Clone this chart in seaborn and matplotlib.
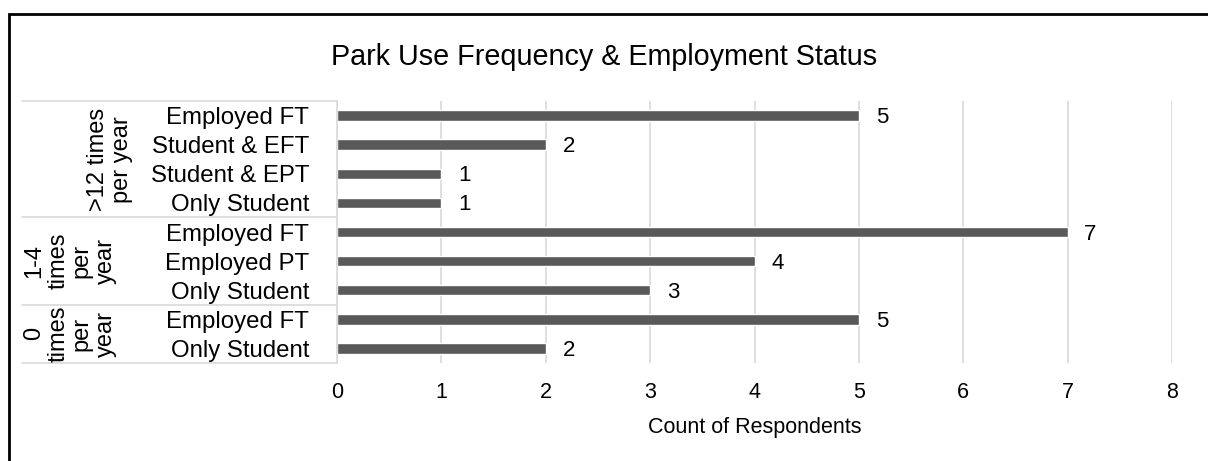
import numpy as np
import pandas as pd
import matplotlib
matplotlib.use("Agg")
import matplotlib.pyplot as plt
import seaborn as sns
from matplotlib.patches import Rectangle

# data, top to bottom
groups = [">12 times\nper year", "1-4\ntimes\nper\nyear", "0\ntimes\nper\nyear"]
group_sizes = [4, 3, 2]
categories = ["Employed FT", "Student & EFT", "Student & EPT", "Only Student",
              "Employed FT", "Employed PT", "Only Student",
              "Employed FT", "Only Student"]
counts = [5, 2, 1, 1, 7, 4, 3, 5, 2]

sns.set_theme(style="white")
plt.rcParams['font.family'] = ['Liberation Sans', 'DejaVu Sans']
plt.rcParams['text.color'] = 'black'
plt.rcParams['axes.labelcolor'] = 'black'
plt.rcParams['xtick.color'] = 'black'
plt.rcParams['ytick.color'] = 'black'

df = pd.DataFrame({
    'key': [f"r{i}" for i in range(len(categories))],
    'category': categories,
    'count': counts,
})

W, H = 1208, 461
fig = plt.figure(figsize=(W / 100, H / 100), dpi=100)
ax = fig.add_axes([337 / W, 1 - 363 / H, (1172 - 337) / W, (363 - 101) / H])

sns.barplot(data=df, x='count', y='key', order=df['key'], orient='h',
            color='#595959', saturation=1, width=0.36, ax=ax)

ax.set_xlim(0, 8)
ax.set_ylim(len(categories) - 0.5, -0.5)
ax.set_xticks(range(0, 9))
ax.set_yticks(range(len(categories)))
ax.set_yticklabels(categories, fontsize=17.3)
ax.tick_params(axis='y', length=0, pad=20)
ax.tick_params(axis='x', length=0, pad=14, labelsize=15.5)
ax.set_xlabel('Count of Respondents', fontsize=15.5, labelpad=10)
ax.set_ylabel('')
ax.grid(axis='x', color='#d9d9d9', linewidth=1.2)
ax.set_axisbelow(True)
for s in ['top', 'right', 'bottom']:
    ax.spines[s].set_visible(False)
ax.spines['left'].set_color('#d9d9d9')
ax.spines['left'].set_linewidth(1.2)

# value labels
for i, v in enumerate(counts):
    ax.text(v + 0.16, i + 0.07, str(v), va='center', ha='left', fontsize=16)

# category table lines and group labels
tr = ax.get_yaxis_transform()
left = (22 - 337) / (1172 - 337)
bounds = [-0.5]
for n in group_sizes:
    bounds.append(bounds[-1] + n)
for b in bounds:
    ax.plot([left, 0], [b, b], color='#d9d9d9', linewidth=1.2,
            transform=tr, clip_on=False)
group_x = [(110 - 337) / 835, (70 - 337) / 835, (70 - 337) / 835]
for g, gx, lo, hi in zip(groups, group_x, bounds[:-1], bounds[1:]):
    ax.text(gx, (lo + hi) / 2, g, rotation=90, ha='center', va='center',
            fontsize=17, linespacing=1.1, transform=tr, multialignment='center')

fig.text(0.5, 1 - 57 / H, 'Park Use Frequency & Employment Status',
         ha='center', va='center', fontsize=20.7)

# outer frame (left/top edges are visible, right/bottom fall outside)
fig.patches.append(Rectangle((9 / W, -0.1), 1.2, 1 - 14 / H + 0.1,
                             transform=fig.transFigure, fill=False,
                             edgecolor='black', linewidth=2))

fig.savefig('out.png', dpi=100)
